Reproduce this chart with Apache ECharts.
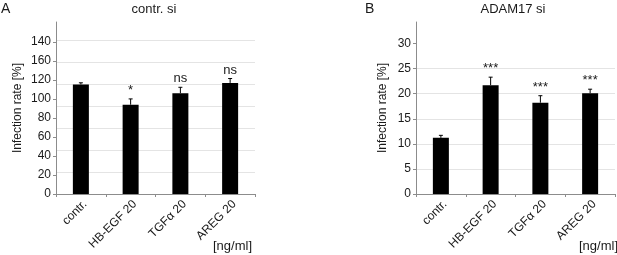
<!DOCTYPE html>
<html>
<head>
<meta charset="UTF-8" />
<script src="https://cdn.jsdelivr.net/npm/echarts@6/dist/echarts.min.js"></script>
<style>
  html, body { margin: 0; padding: 0; background: #fff; }
  #main { width: 617px; height: 255px; }
</style>
</head>
<body>
<div id="main"></div>
<script>
  // categories on both panels
  const categories = ['contr.', 'HB-EGF 20', 'TGFα 20', 'AREG 20'];
  // panel A: contr. si
  const ctrlMeans = [100, 81.5, 92, 101.4];
  const ctrlErr = [1.5, 5.3, 5.4, 4];
  const ctrlSig = ['', '*', 'ns', 'ns'];
  // the left axis labels as printed in the figure (evenly spaced, not on the gridlines)
  const ctrlTickLabels = ['0', '20', '40', '60', '80', '100', '120', '160', '140'];
  // panel B: ADAM17 si
  const adamMeans = [11.2, 21.7, 18.2, 20.1];
  const adamErr = [0.5, 1.6, 1.4, 0.8];
  const adamSig = ['', '***', '***', '***'];
  const adamTicks = [0, 5, 10, 15, 20, 25, 30];

  const font = 'Liberation Sans, Arial, sans-serif';
  const txt = '#1a1a1a';
  const axisGray = '#8c8c8c';

  function errData(means, errs, sig) {
    return means.map((m, i) => [i, m, errs[i], sig[i]]);
  }

  function errRender(params, api) {
    const x = api.value(0);
    const m = api.value(1);
    const e = api.value(2);
    const base = api.coord([x, m]);
    const top = api.coord([x, m + e]);
    return {
      type: 'group',
      children: [
        { type: 'line', shape: { x1: base[0], y1: base[1], x2: top[0], y2: top[1] },
          style: { stroke: '#000', lineWidth: 1 } },
        { type: 'line', shape: { x1: top[0] - 2, y1: top[1], x2: top[0] + 2, y2: top[1] },
          style: { stroke: '#000', lineWidth: 1 } },
        { type: 'text', x: top[0], y: top[1] - 2,
          style: { text: api.value(3), fill: txt, font: '13px ' + font, align: 'center', verticalAlign: 'bottom' } }
      ]
    };
  }

  const xAxisCommon = {
    type: 'category',
    data: categories,
    axisLine: { lineStyle: { color: axisGray, width: 1 } },
    axisTick: { show: true, length: 3, lineStyle: { color: axisGray } },
    axisLabel: { rotate: 45, color: txt, fontFamily: font, fontSize: 12, margin: 4, verticalAlign: 'top' }
  };

  const chart = echarts.init(document.getElementById('main'));
  chart.setOption({
    animation: false,
    title: [
      { text: 'contr. si', left: 154, top: 3, textAlign: 'center', padding: 0,
        textStyle: { fontFamily: font, fontSize: 13, fontWeight: 'normal', color: txt } },
      { text: 'ADAM17 si', left: 513, top: 3, textAlign: 'center', padding: 0,
        textStyle: { fontFamily: font, fontSize: 13, fontWeight: 'normal', color: txt } }
    ],
    graphic: [
      { type: 'text', left: 1, top: 2, style: { text: 'A', font: '14px ' + font, fill: txt } },
      { type: 'text', left: 365, top: 2, style: { text: 'B', font: '14px ' + font, fill: txt } },
      { type: 'text', left: 213, top: 240, style: { text: '[ng/ml]', font: '13px ' + font, fill: txt } },
      { type: 'text', left: 579, top: 240, style: { text: '[ng/ml]', font: '13px ' + font, fill: txt } }
    ],
    grid: [
      { left: 56, width: 199, top: 22, bottom: 61 },
      { left: 416, width: 199, top: 22, bottom: 61 },
      // label strip for panel A's printed tick labels
      { left: 56, width: 199, top: 42, bottom: 61 }
    ],
    xAxis: [
      Object.assign({ gridIndex: 0 }, xAxisCommon),
      Object.assign({ gridIndex: 1 }, xAxisCommon),
      { gridIndex: 2, type: 'value', show: false, min: 0, max: 1 }
    ],
    yAxis: [
      {
        gridIndex: 0, type: 'value', min: 0, max: 157, interval: 20,
        name: 'Infection rate [%]', nameLocation: 'middle', nameGap: 32,
        nameTextStyle: { fontFamily: font, fontSize: 12, color: txt },
        axisLine: { show: true, lineStyle: { color: axisGray, width: 1 } },
        axisTick: { show: false },
        axisLabel: { show: false },
        splitLine: { show: true, showMaxLine: false, lineStyle: { color: '#e4e4e4' } }
      },
      {
        gridIndex: 1, type: 'value', min: 0, max: 34.3, interval: 5,
        name: 'Infection rate [%]', nameLocation: 'middle', nameGap: 27,
        nameTextStyle: { fontFamily: font, fontSize: 12, color: txt },
        axisLine: { show: true, lineStyle: { color: axisGray, width: 1 } },
        axisTick: { show: true, length: 3, customValues: adamTicks, lineStyle: { color: axisGray } },
        axisLabel: { color: txt, fontFamily: font, fontSize: 12, margin: 5, customValues: adamTicks },
        splitLine: { show: true, showMaxLine: false, lineStyle: { color: '#e4e4e4' } }
      },
      {
        gridIndex: 2, type: 'value', min: 0, max: ctrlTickLabels.length - 1, interval: 1,
        axisLine: { show: false },
        axisTick: { show: true, length: 3, lineStyle: { color: axisGray } },
        axisLabel: { color: txt, fontFamily: font, fontSize: 12, margin: 5,
          formatter: (v) => ctrlTickLabels[Math.round(v)] },
        splitLine: { show: false }
      }
    ],
    series: [
      { type: 'bar', xAxisIndex: 0, yAxisIndex: 0, data: ctrlMeans, barWidth: 16,
        itemStyle: { color: '#000' } },
      { type: 'custom', xAxisIndex: 0, yAxisIndex: 0, data: errData(ctrlMeans, ctrlErr, ctrlSig),
        renderItem: errRender, z: 5 },
      { type: 'bar', xAxisIndex: 1, yAxisIndex: 1, data: adamMeans, barWidth: 16,
        itemStyle: { color: '#000' } },
      { type: 'custom', xAxisIndex: 1, yAxisIndex: 1, data: errData(adamMeans, adamErr, adamSig),
        renderItem: errRender, z: 5 }
    ]
  });
</script>
</body>
</html>
